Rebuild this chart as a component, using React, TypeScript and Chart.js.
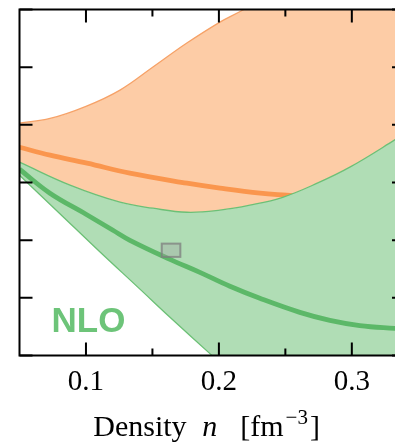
import React, { useEffect, useRef } from "react";
import { Chart, registerables } from "chart.js";

Chart.register(...registerables);

// ---- axes ----
const X_MIN = 0.05;
const X_MAX = 0.34;
const Y_MIN = -25;
const Y_MAX = 5;
const X_MAJOR_TICKS = [0.1, 0.2, 0.3];
const X_TICK_LABELS = ["0.1", "0.2", "0.3"];
const X_MINOR_TICKS = [0.15, 0.25];
const Y_TICKS = [-25, -20, -15, -10, -5, 0, 5];

// ---- LO band (orange) ----
const LO_UPPER_X = [0.05, 0.073, 0.1, 0.1256, 0.1504, 0.1759, 0.2008, 0.218, 0.25, 0.3, 0.34];
const LO_UPPER_Y = [-4.85, -4.45, -3.4, -1.99, 0.01, 2.09, 3.91, 4.96, 7.2, 10.6, 13.4];
const LO_CENTER_X = [0.05, 0.073, 0.1008, 0.133, 0.176, 0.2008, 0.231, 0.251, 0.27];
const LO_CENTER_Y = [-6.94, -7.63, -8.32, -9.19, -10.06, -10.49, -10.93, -11.1, -11.25];

// ---- NLO band (green) ----
const NLO_UPPER_X = [0.05, 0.088, 0.1256, 0.1504, 0.176, 0.2008, 0.2233, 0.248, 0.274, 0.2985, 0.332, 0.34];
const NLO_UPPER_Y = [-8.24, -10.23, -11.71, -12.23, -12.58, -12.4, -11.97, -11.28, -10.06, -8.67, -6.33, -5.7];
const NLO_LOWER_X = [0.05, 0.08, 0.11, 0.14, 0.1632, 0.1947, 0.23, 0.26, 0.3, 0.34];
const NLO_LOWER_Y = [-9.37, -12.66, -15.96, -19.18, -21.69, -24.99, -28.6, -31.0, -35.2, -39.5];
const NLO_CENTER_X = [0.05, 0.0729, 0.1, 0.1203, 0.1331, 0.1632, 0.1857, 0.2083, 0.2308, 0.2609, 0.2835, 0.306, 0.3323, 0.34];
const NLO_CENTER_Y = [-8.85, -10.93, -12.75, -14.14, -15.01, -16.66, -17.79, -19.0, -20.04, -21.26, -21.95, -22.4, -22.65, -22.7];

// ---- saturation box ----
const SAT_BOX_N = [0.157, 0.171];
const SAT_BOX_E = [-16.45, -15.3];

const ORDER_LABEL = "NLO";

const pts = (xs: number[], ys: number[]) => xs.map((x, i) => ({ x, y: ys[i] }));

const SERIF = "'Liberation Serif', 'Times New Roman', serif";

const decorPlugin = {
  id: "decor",
  afterDatasetsDraw(chart: any) {
    const { ctx, chartArea, scales } = chart;
    const xs = scales.x;
    const ys = scales.y;
    ctx.save();
    ctx.beginPath();
    ctx.rect(chartArea.left, chartArea.top, chartArea.right - chartArea.left, chartArea.bottom - chartArea.top);
    ctx.clip();
    // saturation box
    const bx0 = xs.getPixelForValue(SAT_BOX_N[0]);
    const bx1 = xs.getPixelForValue(SAT_BOX_N[1]);
    const by0 = ys.getPixelForValue(SAT_BOX_E[1]);
    const by1 = ys.getPixelForValue(SAT_BOX_E[0]);
    ctx.fillStyle = "rgba(160,160,160,0.35)";
    ctx.fillRect(bx0, by0, bx1 - bx0, by1 - by0);
    ctx.strokeStyle = "rgba(125,125,125,0.75)";
    ctx.lineWidth = 2;
    ctx.strokeRect(bx0, by0, bx1 - bx0, by1 - by0);
    // order label
    ctx.font = "bold 35px 'Liberation Sans', Arial, sans-serif";
    ctx.fillStyle = "rgb(109,196,121)";
    ctx.textAlign = "left";
    ctx.textBaseline = "alphabetic";
    ctx.fillText(ORDER_LABEL, chartArea.left + 32, chartArea.bottom - 23.5);
    ctx.restore();
  },
  afterDraw(chart: any) {
    const { ctx, chartArea, scales } = chart;
    const xs = scales.x;
    const ys = scales.y;
    const { left, right, top, bottom } = chartArea;
    ctx.save();
    ctx.strokeStyle = "#000";
    ctx.lineWidth = 2;
    ctx.strokeRect(left, top, right - left, bottom - top);
    const MAJ = 13;
    const MIN = 7;
    ctx.beginPath();
    X_MAJOR_TICKS.forEach((v) => {
      const px = xs.getPixelForValue(v);
      ctx.moveTo(px, bottom);
      ctx.lineTo(px, bottom - MAJ);
      ctx.moveTo(px, top);
      ctx.lineTo(px, top + MAJ);
    });
    X_MINOR_TICKS.forEach((v) => {
      const px = xs.getPixelForValue(v);
      ctx.moveTo(px, bottom);
      ctx.lineTo(px, bottom - MIN);
      ctx.moveTo(px, top);
      ctx.lineTo(px, top + MIN);
    });
    Y_TICKS.forEach((v) => {
      const py = ys.getPixelForValue(v);
      ctx.moveTo(left, py);
      ctx.lineTo(left + MAJ, py);
      ctx.moveTo(right, py);
      ctx.lineTo(right - MAJ, py);
    });
    ctx.stroke();

    // tick labels
    ctx.fillStyle = "#000";
    ctx.font = `29px ${SERIF}`;
    ctx.textAlign = "center";
    ctx.textBaseline = "alphabetic";
    X_MAJOR_TICKS.forEach((v, i) => {
      ctx.fillText(X_TICK_LABELS[i], xs.getPixelForValue(v), bottom + 34.5);
    });

    // axis title: Density n [fm^-3]
    const cx = (left + right) / 2;
    const base = bottom + 80.5;
    const x0 = cx - 119;
    ctx.textAlign = "left";
    ctx.font = `30px ${SERIF}`;
    ctx.fillText("Density", x0, base);
    ctx.font = `italic 30px ${SERIF}`;
    ctx.fillText("n", x0 + 109, base);
    ctx.font = `30px ${SERIF}`;
    let x = x0 + 147;
    ctx.fillText("[fm", x, base);
    x += ctx.measureText("[fm").width + 2;
    ctx.font = `21px ${SERIF}`;
    ctx.fillText("\u22123", x, base - 12);
    x += ctx.measureText("\u22123").width + 2;
    ctx.font = `30px ${SERIF}`;
    ctx.fillText("]", x, base);
    ctx.restore();
  },
};

export default function App() {
  const ref = useRef<HTMLCanvasElement | null>(null);
  useEffect(() => {
    if (!ref.current) return;
    const thin = 1.3;
    const chart = new Chart(ref.current, {
      type: "line",
      data: {
        datasets: [
          {
            label: "LO upper",
            data: pts(LO_UPPER_X, LO_UPPER_Y),
            borderColor: "rgb(246,162,104)",
            borderWidth: thin,
            backgroundColor: "rgb(253,204,166)",
            fill: { target: 2 },
            order: 5,
          },
          {
            label: "LO",
            data: pts(LO_CENTER_X, LO_CENTER_Y),
            borderColor: "rgb(250,150,78)",
            borderWidth: 4.8,
            fill: false,
            order: 4,
          },
          {
            label: "NLO upper",
            data: pts(NLO_UPPER_X, NLO_UPPER_Y),
            borderColor: "rgb(108,192,118)",
            borderWidth: thin,
            backgroundColor: "rgb(176,221,181)",
            fill: { target: 3 },
            order: 3,
          },
          {
            label: "NLO lower",
            data: pts(NLO_LOWER_X, NLO_LOWER_Y),
            borderColor: "rgb(108,192,118)",
            borderWidth: thin,
            fill: false,
            order: 2,
          },
          {
            label: "NLO",
            data: pts(NLO_CENTER_X, NLO_CENTER_Y),
            borderColor: "rgb(92,184,104)",
            borderWidth: 4.8,
            fill: false,
            order: 1,
          },
        ],
      },
      options: {
        animation: false,
        responsive: false,
        maintainAspectRatio: false,
        devicePixelRatio: 1,
        layout: { padding: { left: 19.5, right: 15, top: 9.5, bottom: 88.5 } },
        elements: {
          point: { radius: 0, hoverRadius: 0 },
          line: { tension: 0.4, capBezierPoints: true },
        },
        plugins: {
          legend: { display: false },
          tooltip: { enabled: false },
          filler: { propagate: false },
        },
        scales: {
          x: { type: "linear", min: X_MIN, max: X_MAX, display: false },
          y: { type: "linear", min: Y_MIN, max: Y_MAX, display: false },
        },
      },
      plugins: [decorPlugin],
    } as any);
    return () => chart.destroy();
  }, []);
  return (
    <div
      style={{
        position: "fixed",
        left: 0,
        top: 0,
        width: 395,
        height: 444,
        overflow: "hidden",
        background: "#fff",
      }}
    >
      <canvas ref={ref} width={420} height={444} style={{ display: "block", width: 420, height: 444 }} />
    </div>
  );
}
